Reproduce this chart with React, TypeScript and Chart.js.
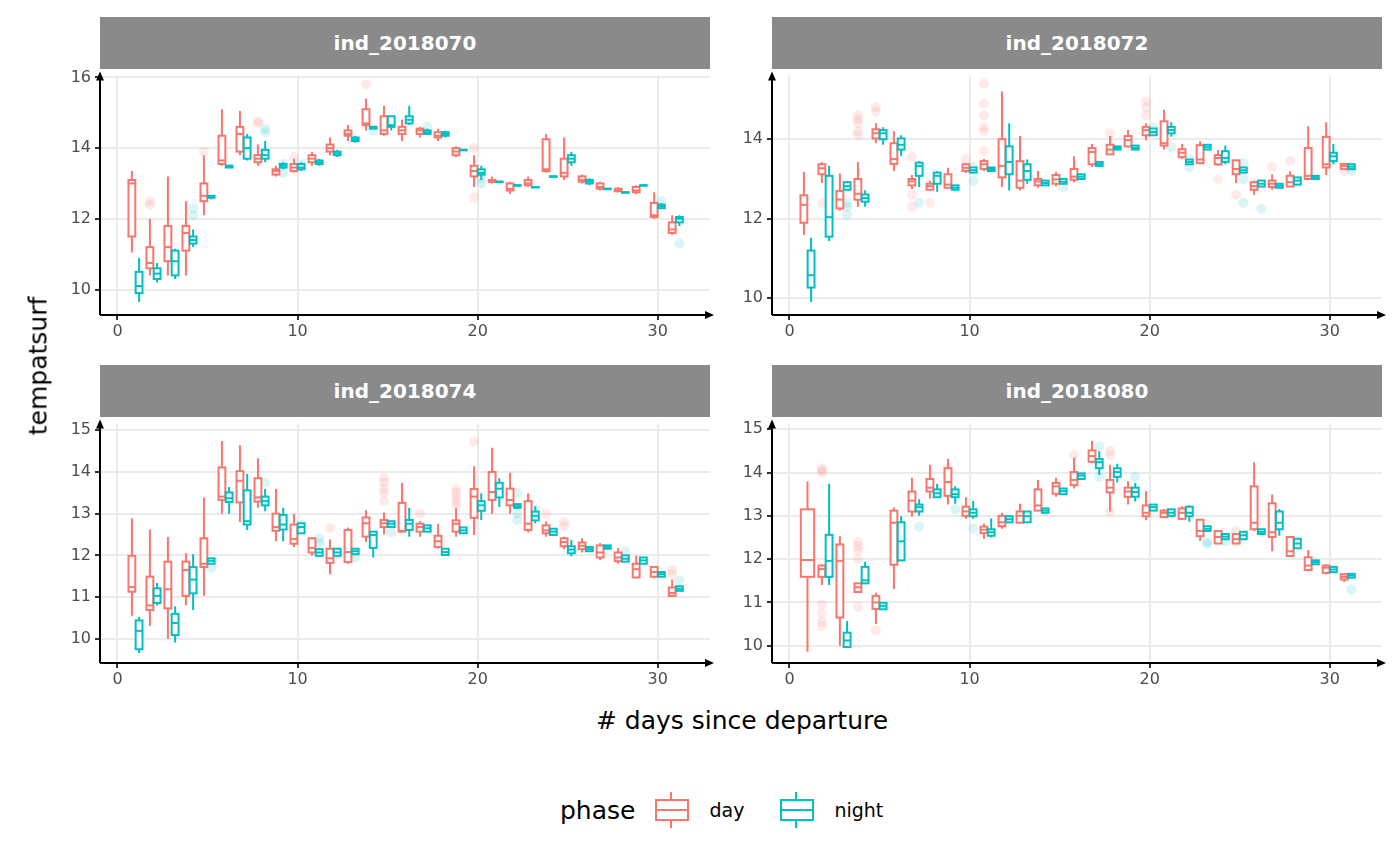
import React, { useEffect, useRef } from "react";
import { Chart, registerables } from "chart.js";

Chart.register(...registerables);

type Box = [number, number, number, number, number] | null; // lo, q1, med, q3, hi

const DAY_COLOR = "#F8766D";
const NIGHT_COLOR = "#00BFC4";
const X_TICKS = [0, 10, 20, 30];

const P1_DAY: Box[] = [
  [11.05, 11.5, 13.0, 13.1, 13.35], [10.4, 10.6, 10.75, 11.2, 12.0], [10.4, 10.8, 11.2, 11.8, 13.2],
  [10.4, 11.1, 11.6, 11.8, 12.5], [12.1, 12.5, 12.65, 13.0, 13.8], [13.5, 13.55, 13.65, 14.35, 15.1],
  [13.8, 13.9, 14.4, 14.6, 15.05], [13.5, 13.6, 13.7, 13.8, 14.1], [13.2, 13.25, 13.35, 13.4, 13.5],
  [13.3, 13.35, 13.45, 13.55, 13.7], [13.5, 13.6, 13.7, 13.8, 13.9], [13.8, 13.9, 14.0, 14.1, 14.3],
  [14.2, 14.35, 14.4, 14.5, 14.65], [14.5, 14.65, 14.7, 15.1, 15.4], [14.35, 14.4, 14.5, 14.9, 15.2],
  [14.2, 14.4, 14.5, 14.6, 14.8], [14.3, 14.4, 14.5, 14.55, 14.6], [14.2, 14.3, 14.35, 14.45, 14.55],
  [13.75, 13.8, 13.9, 14.0, 14.05], [12.9, 13.2, 13.35, 13.5, 13.8], [13.0, 13.05, 13.05, 13.1, 13.2],
  [12.7, 12.8, 12.85, 13.0, 13.05], [12.9, 12.95, 13.0, 13.1, 13.2], [13.3, 13.35, 13.4, 14.25, 14.4],
  [13.1, 13.2, 13.3, 13.7, 14.3], [13.0, 13.05, 13.1, 13.2, 13.25], [12.8, 12.85, 12.9, 13.0, 13.05],
  [12.75, 12.78, 12.8, 12.85, 12.9], [12.7, 12.75, 12.8, 12.9, 12.95], [12.0, 12.05, 12.1, 12.45, 12.75],
  [11.55, 11.6, 11.7, 11.9, 12.1],
];
const P1_NIGHT: Box[] = [
  [9.65, 9.9, 10.1, 10.5, 10.9], [10.2, 10.3, 10.45, 10.6, 10.75], [10.3, 10.4, 10.8, 11.1, 11.15],
  [11.2, 11.3, 11.4, 11.5, 11.7], [12.55, 12.6, 12.6, 12.65, 12.65], [13.45, 13.45, 13.5, 13.5, 13.5],
  [13.65, 13.7, 14.0, 14.3, 14.4], [13.6, 13.7, 13.8, 13.95, 14.2], [13.4, 13.45, 13.5, 13.55, 13.6],
  [13.35, 13.4, 13.45, 13.55, 13.6], [13.5, 13.55, 13.6, 13.65, 13.7], [13.75, 13.8, 13.85, 13.9, 13.95],
  [14.15, 14.2, 14.25, 14.3, 14.35], [14.55, 14.55, 14.6, 14.6, 14.6], [14.5, 14.6, 14.65, 14.9, 14.9],
  [14.65, 14.7, 14.8, 14.9, 15.2], [14.4, 14.4, 14.45, 14.5, 14.55], [14.3, 14.35, 14.4, 14.45, 14.5],
  [13.95, 13.95, 13.95, 13.95, 13.95], [13.1, 13.25, 13.3, 13.4, 13.5], [13.05, 13.05, 13.05, 13.05, 13.05],
  [12.95, 12.95, 12.95, 12.95, 12.95], [12.9, 12.9, 12.9, 12.9, 12.9], [13.2, 13.2, 13.2, 13.2, 13.2],
  [13.5, 13.6, 13.7, 13.8, 13.9], [12.95, 13.0, 13.05, 13.1, 13.15], [12.85, 12.85, 12.85, 12.85, 12.85],
  [12.75, 12.75, 12.75, 12.75, 12.75], [12.95, 12.95, 12.95, 12.95, 12.95], [12.3, 12.3, 12.35, 12.4, 12.45],
  [11.8, 11.9, 12.0, 12.05, 12.1],
];
const P1_DAY_OUT = [[2, 12.4], [2, 12.5], [5, 13.9], [8, 14.7], [8, 14.75], [10, 13.75], [14, 15.8], [20, 14.0], [20, 12.6]];
const P1_NIGHT_OUT = [[4, 12.1], [4, 12.3], [8, 14.45], [8, 14.55], [9, 13.3], [9, 13.55], [10, 13.55], [14, 14.5], [17, 14.6], [20, 13.0], [20, 13.15], [30, 12.5], [31, 11.3]];

const P2_DAY: Box[] = [
  [11.6, 11.9, 12.35, 12.59, 13.18], [12.9, 13.12, 13.27, 13.37, 13.43], [12.2, 12.26, 12.48, 12.7, 13.14],
  [12.3, 12.48, 12.63, 13.0, 13.43], [13.9, 14.02, 14.15, 14.25, 14.4], [13.2, 13.38, 13.5, 13.9, 14.2],
  [12.75, 12.84, 12.94, 13.0, 13.1], [12.73, 12.73, 12.82, 12.88, 12.96], [12.76, 12.78, 12.86, 13.12, 13.28],
  [13.15, 13.2, 13.28, 13.37, 13.4], [13.2, 13.25, 13.37, 13.45, 13.5], [12.8, 13.04, 13.33, 14.0, 15.2],
  [12.71, 12.78, 12.96, 13.45, 14.08], [12.78, 12.84, 12.94, 13.0, 13.2], [12.82, 12.88, 12.99, 13.1, 13.18],
  [12.92, 12.98, 13.06, 13.25, 13.57], [13.3, 13.37, 13.68, 13.78, 13.88], [13.6, 13.62, 13.74, 13.86, 14.08],
  [13.8, 13.82, 13.98, 14.08, 14.23], [13.97, 14.1, 14.23, 14.31, 14.4], [13.74, 13.84, 13.9, 14.45, 14.74],
  [13.5, 13.55, 13.66, 13.75, 13.88], [13.37, 13.4, 13.49, 13.85, 13.95], [13.33, 13.37, 13.53, 13.6, 13.73],
  [12.9, 13.12, 13.25, 13.47, 13.47], [12.6, 12.73, 12.82, 12.92, 12.96], [12.73, 12.8, 12.88, 12.96, 13.12],
  [12.8, 12.81, 12.92, 13.08, 13.2], [13.0, 13.0, 13.08, 13.78, 14.33], [13.1, 13.29, 13.37, 14.06, 14.43],
  [13.25, 13.25, 13.33, 13.38, 13.38],
];
const P2_NIGHT: Box[] = [
  [9.91, 10.27, 10.58, 11.2, 11.52], [11.44, 11.55, 12.04, 13.08, 13.33], [12.73, 12.73, 12.82, 12.92, 12.95],
  [12.3, 12.43, 12.52, 12.61, 12.72], [13.86, 14.0, 14.15, 14.23, 14.3], [13.58, 13.74, 13.86, 14.02, 14.1],
  [12.8, 13.08, 13.33, 13.41, 13.45], [12.68, 12.88, 13.08, 13.16, 13.2], [12.73, 12.73, 12.78, 12.84, 12.84],
  [13.16, 13.16, 13.22, 13.29, 13.29], [13.2, 13.2, 13.25, 13.29, 13.29], [12.71, 13.12, 13.43, 13.82, 14.4],
  [12.88, 12.98, 13.2, 13.37, 13.49], [12.84, 12.84, 12.9, 12.96, 12.96], [12.88, 12.88, 12.93, 13.0, 13.0],
  [13.0, 13.0, 13.06, 13.12, 13.12], [13.33, 13.33, 13.38, 13.43, 13.43], [13.74, 13.74, 13.78, 13.82, 13.82],
  [13.74, 13.74, 13.78, 13.84, 13.84], [14.1, 14.1, 14.18, 14.27, 14.27], [14.06, 14.15, 14.23, 14.31, 14.43],
  [13.37, 13.37, 13.43, 13.49, 13.49], [13.74, 13.74, 13.8, 13.86, 13.86], [13.37, 13.43, 13.53, 13.7, 13.84],
  [13.16, 13.16, 13.22, 13.29, 13.29], [12.81, 12.81, 12.88, 12.96, 12.96], [12.78, 12.78, 12.83, 12.88, 12.88],
  [12.86, 12.86, 12.96, 13.04, 13.04], [13.0, 13.0, 13.04, 13.08, 13.08], [13.37, 13.45, 13.57, 13.66, 13.88],
  [13.25, 13.25, 13.31, 13.37, 13.37],
];
const P2_DAY_OUT = [[2, 12.4], [4, 14.6], [4, 14.5], [4, 14.4], [4, 14.2], [4, 14.1], [5, 14.8], [5, 14.7], [7, 13.55], [7, 12.6], [7, 12.3], [8, 12.4], [10, 13.5], [10, 13.3], [11, 15.4], [11, 14.9], [11, 14.6], [11, 14.3], [11, 14.2], [11, 13.7], [18, 14.15], [20, 14.8], [20, 14.95], [20, 14.6], [24, 13.0], [25, 12.6], [27, 13.3], [28, 13.45], [31, 13.2]];
const P2_NIGHT_OUT = [[3, 12.1], [3, 12.3], [3, 12.4], [7, 12.4], [10, 12.95], [10, 13.3], [15, 12.8], [20, 14.3], [21, 13.8], [22, 13.3], [22, 13.5], [25, 13.4], [25, 13.0], [25, 12.4], [26, 12.25], [28, 12.9], [31, 13.3], [31, 13.2]];

const P3_DAY: Box[] = [
  [10.55, 11.13, 11.24, 11.99, 12.89], [10.31, 10.69, 10.8, 11.49, 12.62], [10.0, 10.73, 11.19, 11.85, 12.44],
  [10.8, 11.03, 11.65, 11.85, 12.05], [11.03, 11.72, 11.8, 12.41, 13.39], [13.0, 13.33, 13.41, 14.11, 14.74],
  [12.8, 13.27, 13.79, 14.02, 14.64], [13.14, 13.29, 13.39, 13.85, 14.33], [12.34, 12.59, 12.68, 13.0, 13.59],
  [12.2, 12.28, 12.39, 12.74, 12.99], [11.99, 12.07, 12.18, 12.41, 12.43], [11.55, 11.82, 11.93, 12.16, 12.38],
  [11.8, 11.84, 12.08, 12.61, 12.67], [12.32, 12.45, 12.77, 12.91, 13.08], [12.5, 12.68, 12.77, 12.85, 13.03],
  [12.57, 12.57, 12.59, 13.26, 13.74], [12.45, 12.57, 12.68, 12.76, 12.82], [12.16, 12.2, 12.34, 12.47, 12.76],
  [12.45, 12.57, 12.76, 12.84, 13.14], [12.49, 12.9, 13.41, 13.59, 14.14], [13.0, 13.33, 13.52, 14.0, 14.58],
  [13.0, 13.2, 13.33, 13.6, 13.98], [12.55, 12.61, 12.76, 13.3, 13.49], [12.45, 12.53, 12.6, 12.72, 12.82],
  [12.15, 12.22, 12.32, 12.41, 12.45], [12.07, 12.15, 12.23, 12.31, 12.41], [11.89, 11.95, 12.07, 12.24, 12.3],
  [11.8, 11.86, 11.95, 12.07, 12.18], [11.46, 11.47, 11.67, 11.8, 11.99], [11.45, 11.49, 11.6, 11.72, 11.72],
  [11.0, 11.03, 11.1, 11.23, 11.42],
];
const P3_NIGHT: Box[] = [
  [9.66, 9.75, 10.19, 10.44, 10.52], [10.8, 10.86, 11.03, 11.21, 11.34], [9.91, 10.09, 10.38, 10.6, 10.78],
  [10.69, 11.09, 11.42, 11.72, 12.03], [11.8, 11.8, 11.87, 11.93, 11.93], [13.0, 13.28, 13.37, 13.51, 13.64],
  [12.61, 12.74, 12.82, 13.56, 13.95], [13.06, 13.2, 13.3, 13.41, 13.59], [12.34, 12.62, 12.74, 12.97, 13.14],
  [12.53, 12.53, 12.68, 12.77, 12.77], [11.99, 11.99, 12.07, 12.15, 12.15], [11.99, 11.99, 12.07, 12.16, 12.16],
  [12.03, 12.03, 12.1, 12.16, 12.16], [11.95, 12.18, 12.49, 12.57, 12.57], [12.68, 12.68, 12.76, 12.82, 12.82],
  [12.45, 12.61, 12.76, 12.85, 13.14], [12.57, 12.57, 12.65, 12.72, 12.72], [12.01, 12.01, 12.08, 12.16, 12.16],
  [12.53, 12.53, 12.6, 12.67, 12.67], [12.85, 13.07, 13.2, 13.3, 13.49], [13.16, 13.39, 13.6, 13.74, 13.85],
  [13.14, 13.14, 13.18, 13.23, 13.23], [12.77, 12.84, 12.95, 13.05, 13.18], [12.49, 12.49, 12.57, 12.64, 12.64],
  [11.98, 12.05, 12.14, 12.22, 12.37], [12.1, 12.1, 12.15, 12.2, 12.2], [12.16, 12.16, 12.2, 12.24, 12.24],
  [11.85, 11.85, 11.92, 12.0, 12.0], [11.8, 11.8, 11.88, 11.95, 11.95], [11.49, 11.49, 11.55, 11.6, 11.6],
  [11.15, 11.15, 11.2, 11.26, 11.26],
];
const P3_DAY_OUT = [[12, 12.65], [15, 13.85], [15, 13.75], [15, 13.6], [15, 13.5], [15, 13.3], [17, 13.0], [19, 13.6], [19, 13.5], [19, 13.4], [19, 13.3], [19, 13.2], [20, 14.73], [24, 13.0], [25, 12.8], [25, 12.7], [31, 11.55], [31, 11.65]];
const P3_NIGHT_OUT = [[5, 11.7], [8, 13.75], [10, 12.72], [11, 12.3], [11, 12.4], [12, 12.02], [13, 11.95], [15, 12.55], [22, 13.0], [22, 12.85], [22, 13.5], [23, 13.1], [28, 12.1], [31, 11.4]];

const P4_DAY: Box[] = [
  [9.86, 11.59, 11.98, 13.15, 13.79], [11.4, 11.59, 11.77, 11.85, 11.88], [10.0, 10.65, 11.96, 12.34, 12.53],
  [11.24, 11.24, 11.35, 11.44, 11.44], [10.5, 10.85, 11.0, 11.15, 11.22], [11.31, 11.87, 12.84, 13.12, 13.19],
  [12.98, 13.1, 13.35, 13.56, 13.88], [13.4, 13.56, 13.65, 13.85, 14.18], [13.26, 13.46, 13.78, 14.1, 14.32],
  [12.93, 13.0, 13.1, 13.21, 13.43], [12.47, 12.6, 12.68, 12.75, 12.82], [12.7, 12.76, 12.85, 13.0, 13.07],
  [12.84, 12.84, 13.0, 13.1, 13.28], [13.12, 13.12, 13.24, 13.61, 13.83], [13.44, 13.51, 13.68, 13.76, 13.88],
  [13.63, 13.71, 13.83, 14.01, 14.34], [14.22, 14.25, 14.38, 14.51, 14.73], [13.1, 13.54, 13.65, 13.83, 14.18],
  [13.26, 13.44, 13.56, 13.65, 13.8], [12.9, 12.99, 13.07, 13.24, 13.57], [12.96, 12.97, 13.07, 13.12, 13.15],
  [12.91, 12.93, 13.07, 13.17, 13.22], [12.42, 12.53, 12.65, 12.91, 12.91], [12.36, 12.36, 12.51, 12.65, 12.65],
  [12.36, 12.36, 12.46, 12.58, 12.58], [12.65, 12.69, 12.84, 13.68, 14.24], [12.18, 12.51, 12.62, 13.29, 13.49],
  [12.07, 12.07, 12.18, 12.51, 12.51], [11.75, 11.75, 11.85, 12.04, 12.21], [11.65, 11.68, 11.8, 11.85, 11.88],
  [11.47, 11.53, 11.59, 11.65, 11.68],
];
const P4_NIGHT: Box[] = [
  null, [11.4, 11.59, 11.96, 12.56, 13.74], [9.97, 9.97, 10.12, 10.3, 10.57],
  [11.44, 11.44, 11.51, 11.82, 11.94], [10.84, 10.84, 10.92, 10.99, 10.99], [11.97, 11.97, 12.41, 12.85, 12.99],
  [13.0, 13.1, 13.2, 13.26, 13.38], [13.43, 13.43, 13.52, 13.61, 13.74], [13.28, 13.43, 13.5, 13.61, 13.68],
  [12.93, 12.99, 13.07, 13.15, 13.34], [12.5, 12.54, 12.62, 12.69, 12.94], [12.85, 12.85, 12.92, 12.99, 12.99],
  [12.85, 12.85, 12.99, 13.1, 13.1], [13.07, 13.07, 13.12, 13.17, 13.17], [13.5, 13.5, 13.57, 13.63, 13.63],
  [13.85, 13.85, 13.93, 13.98, 13.98], [13.94, 14.1, 14.24, 14.31, 14.49], [13.77, 13.9, 14.01, 14.1, 14.2],
  [13.33, 13.44, 13.55, 13.65, 13.76], [13.12, 13.12, 13.2, 13.26, 13.26], [13.0, 13.0, 13.07, 13.15, 13.15],
  [12.86, 12.99, 13.07, 13.21, 13.24], [12.65, 12.65, 12.7, 12.76, 12.76], [12.46, 12.46, 12.52, 12.58, 12.58],
  [12.46, 12.46, 12.55, 12.63, 12.63], [12.58, 12.58, 12.63, 12.69, 12.69], [12.54, 12.69, 12.84, 13.1, 13.16],
  [12.25, 12.25, 12.36, 12.47, 12.47], [11.88, 11.88, 11.93, 11.97, 11.97], [11.7, 11.7, 11.76, 11.82, 11.82],
  [11.57, 11.57, 11.62, 11.66, 11.66],
];
const P4_DAY_OUT = [[2, 14.1], [2, 14.05], [2, 14.0], [2, 10.95], [2, 10.75], [2, 10.55], [2, 10.45], [4, 12.4], [4, 12.3], [4, 12.2], [4, 12.0], [4, 10.9], [5, 10.35], [9, 14.1], [9, 14.0], [9, 13.9], [10, 13.05], [16, 14.4], [18, 14.5], [18, 14.4], [18, 13.1], [24, 12.55], [24, 12.45], [25, 12.65], [25, 12.4]];
const P4_NIGHT_OUT = [[7, 12.75], [9, 13.15], [10, 12.7], [17, 14.6], [17, 13.9], [19, 13.9], [23, 12.4], [23, 12.35], [24, 12.4], [25, 12.5], [31, 11.3]];

interface Panel {
  title: string;
  day: Box[];
  night: Box[];
  dayOut: number[][];
  nightOut: number[][];
  yMin: number;
  yMax: number;
  yStep: number;
  left: number;
  top: number;
}

const PANELS: Panel[] = [
  { title: "ind_2018070", day: P1_DAY, night: P1_NIGHT, dayOut: P1_DAY_OUT, nightOut: P1_NIGHT_OUT, yMin: 9.28, yMax: 16.05, yStep: 2, left: 100, top: 70 },
  { title: "ind_2018072", day: P2_DAY, night: P2_NIGHT, dayOut: P2_DAY_OUT, nightOut: P2_NIGHT_OUT, yMin: 9.58, yMax: 15.6, yStep: 2, left: 772, top: 70 },
  { title: "ind_2018074", day: P3_DAY, night: P3_NIGHT, dayOut: P3_DAY_OUT, nightOut: P3_NIGHT_OUT, yMin: 9.42, yMax: 15.16, yStep: 1, left: 100, top: 418 },
  { title: "ind_2018080", day: P4_DAY, night: P4_NIGHT, dayOut: P4_DAY_OUT, nightOut: P4_NIGHT_OUT, yMin: 9.6, yMax: 15.13, yStep: 1, left: 772, top: 418 },
];

const PLOT_W = 610;
const PLOT_H = 245;
const Y_AXIS_W = 50;
const X_AXIS_H = 30;
const CANVAS_TOP = 8;
const PAD_TOP = 3;
const PAD_RIGHT = 8;
const FONT = "'DejaVu Sans', sans-serif";

const fade = (hex: string) => hex + "26";

const PanelChart: React.FC<{ panel: Panel }> = ({ panel }) => {
  const canvasRef = useRef<HTMLCanvasElement>(null);

  useEffect(() => {
    const canvas = canvasRef.current;
    if (!canvas) return;
    const ctx = canvas.getContext("2d");
    if (!ctx) return;

    const boxPlugin = {
      id: "boxes",
      afterDatasetsDraw(chart: Chart) {
        const c = chart.ctx;
        const xs = chart.scales.x;
        const ys = chart.scales.y;
        const drawBox = (b: Box, center: number, half: number, color: string) => {
          if (!b) return;
          const x0 = xs.getPixelForValue(center - half);
          const x1 = xs.getPixelForValue(center + half);
          const xm = xs.getPixelForValue(center);
          const [lo, q1, med, q3, hi] = b.map((v) => ys.getPixelForValue(v));
          c.save();
          c.strokeStyle = color;
          c.lineWidth = 2;
          c.beginPath();
          c.moveTo(xm, lo);
          c.lineTo(xm, q1);
          c.moveTo(xm, q3);
          c.lineTo(xm, hi);
          c.stroke();
          c.fillStyle = "#ffffff";
          c.fillRect(x0, q3, x1 - x0, q1 - q3);
          c.strokeRect(x0, q3, x1 - x0, Math.max(q1 - q3, 0.5));
          c.beginPath();
          c.moveTo(x0, med);
          c.lineTo(x1, med);
          c.stroke();
          c.restore();
        };
        panel.day.forEach((b, i) => {
          const d = i + 1;
          if (panel.night[i]) drawBox(b, d - 0.2, 0.19, DAY_COLOR);
          else drawBox(b, d, 0.37, DAY_COLOR);
        });
        panel.night.forEach((b, i) => drawBox(b, i + 1 + 0.2, 0.19, NIGHT_COLOR));

        // axis lines with arrows
        const { left, right, top, bottom } = chart.chartArea;
        c.save();
        c.strokeStyle = "#000";
        c.fillStyle = "#000";
        c.lineWidth = 2;
        c.beginPath();
        c.moveTo(left, bottom);
        c.lineTo(left, top + 2);
        c.moveTo(left, bottom);
        c.lineTo(right - 2, bottom);
        c.stroke();
        c.beginPath();
        c.moveTo(left, top - 4);
        c.lineTo(left - 4, top + 5);
        c.lineTo(left + 4, top + 5);
        c.closePath();
        c.fill();
        c.beginPath();
        c.moveTo(right + 4, bottom);
        c.lineTo(right - 5, bottom - 4);
        c.lineTo(right - 5, bottom + 4);
        c.closePath();
        c.fill();
        c.restore();
      },
    };

    const chart = new Chart(ctx, {
      type: "scatter",
      data: {
        datasets: [
          {
            label: "day",
            data: panel.dayOut.map(([d, v]) => ({ x: d - (panel.night[d - 1] ? 0.2 : 0), y: v })),
            backgroundColor: fade(DAY_COLOR),
            borderWidth: 0,
            pointRadius: 5,
          },
          {
            label: "night",
            data: panel.nightOut.map(([d, v]) => ({ x: d + 0.2, y: v })),
            backgroundColor: fade(NIGHT_COLOR),
            borderWidth: 0,
            pointRadius: 5,
          },
        ],
      },
      options: {
        responsive: false,
        animation: false,
        layout: { padding: { top: PAD_TOP, right: PAD_RIGHT, left: 0, bottom: 0 } },
        plugins: { legend: { display: false }, tooltip: { enabled: false } },
        scales: {
          x: {
            type: "linear",
            min: -0.97,
            max: 32.9,
            afterBuildTicks: (axis: any) => {
              axis.ticks = X_TICKS.map((v) => ({ value: v }));
            },
            afterFit: (axis: any) => {
              axis.height = X_AXIS_H;
            },
            border: { display: false },
            grid: { color: "#EBEBEB", lineWidth: 2, tickColor: "#333", tickLength: 5 },
            ticks: { color: "#4D4D4D", font: { family: FONT, size: 16 }, padding: 2, maxRotation: 0 },
          },
          y: {
            type: "linear",
            min: panel.yMin,
            max: panel.yMax,
            afterBuildTicks: (axis: any) => {
              const t = [];
              for (let v = 10; v <= panel.yMax; v += panel.yStep) t.push({ value: v });
              axis.ticks = t;
            },
            afterFit: (axis: any) => {
              axis.width = Y_AXIS_W;
            },
            border: { display: false },
            grid: { color: "#EBEBEB", lineWidth: 2, tickColor: "#333", tickLength: 5 },
            ticks: { color: "#4D4D4D", font: { family: FONT, size: 16 }, padding: 4 },
          },
        },
      },
      plugins: [boxPlugin],
    });

    return () => chart.destroy();
  }, [panel]);

  return (
    <>
      <div
        style={{
          position: "absolute",
          left: panel.left,
          top: panel.top - 53,
          width: PLOT_W,
          height: 52,
          background: "#8A8A8A",
          color: "#fff",
          fontFamily: FONT,
          fontWeight: "bold",
          fontSize: 20,
          display: "flex",
          alignItems: "center",
          justifyContent: "center",
        }}
      >
        {panel.title}
      </div>
      <canvas
        ref={canvasRef}
        width={Y_AXIS_W + PLOT_W + PAD_RIGHT}
        height={CANVAS_TOP + PLOT_H + X_AXIS_H}
        style={{ position: "absolute", left: panel.left - Y_AXIS_W, top: panel.top - CANVAS_TOP }}
      />
    </>
  );
};

const LegendKey: React.FC<{ color: string }> = ({ color }) => (
  <div style={{ position: "relative", width: 36, height: 36 }}>
    <div style={{ position: "absolute", left: 17, top: 0, width: 2, height: 36, background: color }} />
    <div style={{ position: "absolute", left: 2, top: 7, width: 30, height: 18, border: `2px solid ${color}`, background: "#fff" }} />
    <div style={{ position: "absolute", left: 4, top: 17, width: 30, height: 2, background: color }} />
  </div>
);

export default function App() {
  return (
    <div style={{ position: "relative", width: 1400, height: 865, margin: -8, background: "#fff", fontFamily: FONT }}>
      {PANELS.map((p) => (
        <PanelChart key={p.title} panel={p} />
      ))}
      <div
        style={{
          position: "absolute",
          left: 38,
          top: 366,
          transform: "translate(-50%, -50%) rotate(-90deg)",
          fontSize: 25,
          color: "#000",
        }}
      >
        tempatsurf
      </div>
      <div style={{ position: "absolute", left: 742, top: 720, transform: "translate(-50%, -50%)", fontSize: 25 }}>
        # days since departure
      </div>
      <div style={{ position: "absolute", left: 560, top: 790, display: "flex", alignItems: "center", height: 40 }}>
        <span style={{ fontSize: 25, marginRight: 18 }}>phase</span>
        <LegendKey color={DAY_COLOR} />
        <span style={{ fontSize: 19, marginLeft: 20, marginRight: 34 }}>day</span>
        <LegendKey color={NIGHT_COLOR} />
        <span style={{ fontSize: 19, marginLeft: 20 }}>night</span>
      </div>
    </div>
  );
}
